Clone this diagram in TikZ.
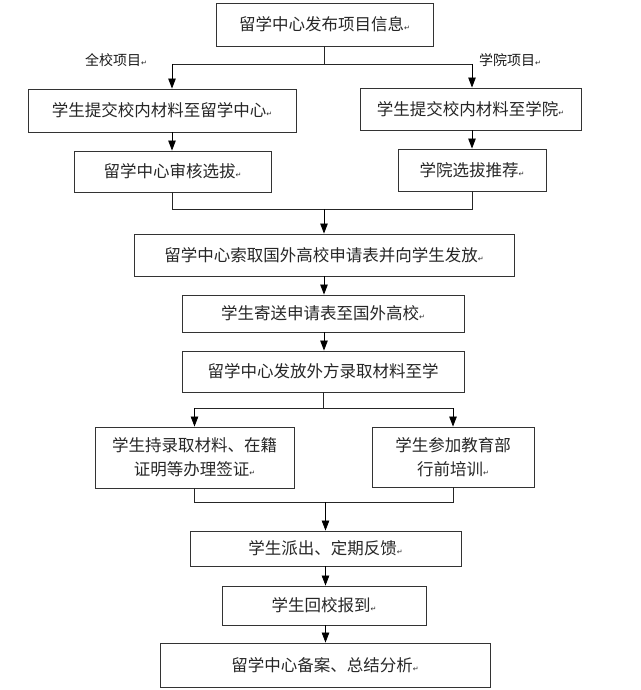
\documentclass[tikz,border=0pt]{standalone}
\usepackage{fontspec}
\setmainfont{Noto Sans CJK SC}
\newfontfamily\symfont{DejaVu Sans}
\usetikzlibrary{arrows.meta}
\newcommand\pmk{{\symfont\fontsize{7}{7}\selectfont ↵}}
\begin{document}
\begin{tikzpicture}[x=1pt,y=-1pt,
  box/.style={draw=black!80, line width=0.9pt, inner sep=0pt, align=center,
    font=\fontsize{16.5}{24}\selectfont, text=black!85},
  lbl/.style={inner sep=0pt, font=\fontsize{14}{16}\selectfont, text=black!90},
  arr/.style={-{Triangle[length=10pt,width=7.5pt]}, line width=0.8pt, draw=black},
  ln/.style={line width=0.8pt, draw=black!85}]
\useasboundingbox (0,0) rectangle (640,690);

\node[box, minimum width=217pt, minimum height=43pt] (b1) at (324.5,24.5) {留学中心发布项目信息\pmk};
\node[box, minimum width=268pt, minimum height=43pt] (b2L) at (162,110.5) {学生提交校内材料至留学中心\pmk};
\node[box, minimum width=221pt, minimum height=42pt] (b2R) at (470.5,109) {学生提交校内材料至学院\pmk};
\node[box, minimum width=197pt, minimum height=41pt] (b3L) at (172.5,171.5) {留学中心审核选拔\pmk};
\node[box, minimum width=148pt, minimum height=42pt] (b3R) at (472,170) {学院选拔推荐\pmk};
\node[box, minimum width=380pt, minimum height=42pt] (b4) at (324,255) {留学中心索取国外高校申请表并向学生发放\pmk};
\node[box, minimum width=282pt, minimum height=37pt] (b5) at (323,313.5) {学生寄送申请表至国外高校\pmk};
\node[box, minimum width=282pt, minimum height=41pt] (b6) at (323,371.5) {留学中心发放外方录取材料至学};
\node[box, minimum width=199pt, minimum height=61pt] (b7L) at (194.5,457.5) {学生持录取材料、在籍\\证明等办理签证\pmk};
\node[box, minimum width=162pt, minimum height=60pt] (b7R) at (453,457) {学生参加教育部\\行前培训\pmk};
\node[box, minimum width=271pt, minimum height=35pt] (b8) at (325.5,548.5) {学生派出、定期反馈\pmk};
\node[box, minimum width=204pt, minimum height=39pt] (b9) at (324,605.5) {学生回校报到\pmk};
\node[box, minimum width=330pt, minimum height=44pt] (b10) at (325,665) {留学中心备案、总结分析\pmk};

\node[lbl] (l1) at (116,60) {全校项目\pmk};
\node[lbl] (l2) at (510,60) {学院项目\pmk};

% first split
\coordinate (j1) at (324.5,64);
\coordinate (jL) at (172,64);
\coordinate (jR) at (472,64);
\draw[ln] (b1.south) -- (j1);
\draw[ln] (jL) -- (jR);
\draw[arr] (jL) -- (jL |- b2L.north);
\draw[arr] (jR) -- (jR |- b2R.north);
\draw[arr] (jL |- b2L.south) -- (jL |- b3L.north);
\draw[arr] (jR |- b2R.south) -- (jR |- b3R.north);

% first merge
\coordinate (mL) at (172,209);
\coordinate (mR) at (472,209);
\draw[ln] (jL |- b3L.south) -- (mL) -- (mR) -- (jR |- b3R.south);
\draw[arr] (b4.north |- mL) -- (b4.north);

\draw[arr] (b4.south) -- (b4.south |- b5.north);
\draw[arr] (b4.south |- b5.south) -- (b4.south |- b6.north);

% second split
\coordinate (sL) at (194.5,408);
\coordinate (sR) at (453,408);
\draw[ln] (b6.south) -- (b6.south |- sL);
\draw[ln] (sL) -- (sR);
\draw[arr] (sL) -- (b7L.north);
\draw[arr] (sR) -- (b7R.north);

% second merge
\coordinate (nL) at (194.5,502);
\coordinate (nR) at (453,502);
\draw[ln] (b7L.south) -- (nL) -- (nR) -- (b7R.south);
\draw[arr] (b8.north |- nL) -- (b8.north);

\draw[arr] (b8.south) -- (b8.south |- b9.north);
\draw[arr] (b8.south |- b9.south) -- (b8.south |- b10.north);
\end{tikzpicture}
\end{document}
